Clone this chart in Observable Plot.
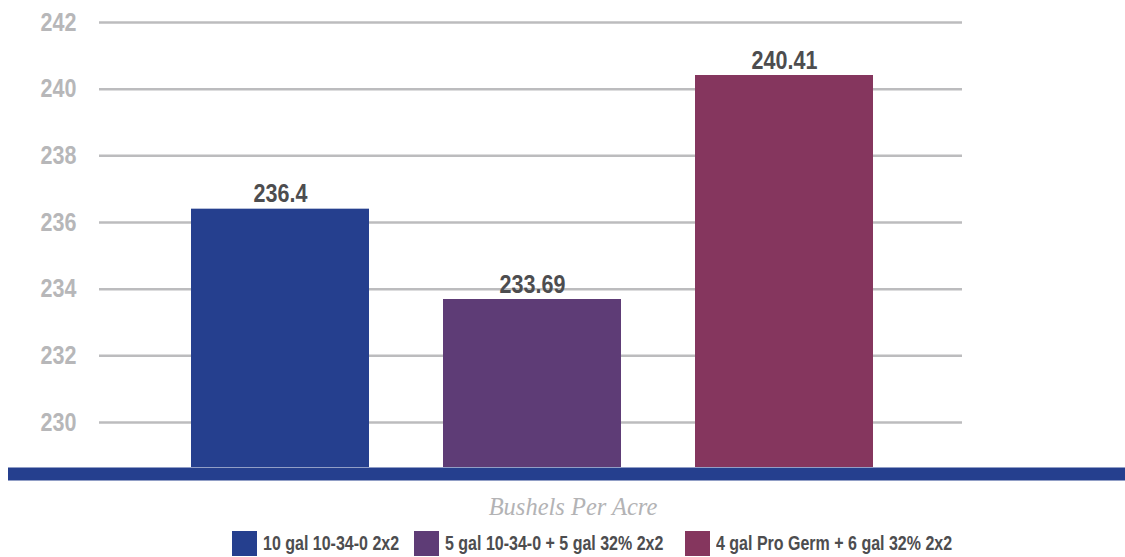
<!DOCTYPE html>
<html>
<head>
<meta charset="utf-8">
<script src="https://cdn.jsdelivr.net/npm/d3@7"></script>
<script src="https://cdn.jsdelivr.net/npm/@observablehq/plot@0.6"></script>
<style>
  html, body { margin: 0; padding: 0; background: #fff; }
  #wrap { position: relative; width: 1125px; height: 557px; overflow: hidden; }
  #title { position: absolute; left: 0; width: 1146px; top: 493px; text-align: center;
    font-family: "Liberation Serif", "DejaVu Serif", serif; font-style: italic; font-size: 24.5px; color: #b3b3b5; }
  .leg { position: absolute; top: 531px; height: 25px; display: flex; align-items: center;
    font-family: "Liberation Sans", Arial, sans-serif; font-weight: bold;
    font-size: 20px; color: #4d4d4f; white-space: nowrap; }
  .sw { width: 25px; height: 25px; margin-right: 6px; flex: none; }
  .leg span { display: inline-block; transform: scaleX(0.8); transform-origin: left center; }
</style>
</head>
<body>
<div id="wrap">
  <div id="chart"></div>
  <div id="title">Bushels Per Acre</div>
  <div id="legend"></div>
</div>
<script>
const categories = ["10 gal 10-34-0 2x2", "5 gal 10-34-0 + 5 gal 32% 2x2", "4 gal Pro Germ + 6 gal 32% 2x2"];
const values = [236.4, 233.69, 240.41];
const labels = ["236.4", "233.69", "240.41"];
const colors = ["#253f8e", "#5e3c76", "#85365e"];
const yTicks = [230, 232, 234, 236, 238, 240, 242];
const yFloor = 228.65;
const yTop = 242.66;

const data = categories.map((c, i) => ({cat: c, value: values[i], label: labels[i], color: colors[i]}));

const font = '"Liberation Sans", Arial, sans-serif';

const chart = Plot.plot({
  width: 1125,
  height: 485,
  marginLeft: 8,
  marginRight: 0,
  marginTop: 0,
  marginBottom: 18,
  style: {background: "#fff", overflow: "visible", fontFamily: font},
  x: {domain: categories, paddingInner: 0.295, paddingOuter: 0.86, align: 0.42, axis: null},
  y: {domain: [yFloor, yTop], axis: null},
  marks: [
    Plot.gridY(yTicks, {stroke: "#bcbcbe", strokeOpacity: 1, strokeWidth: 2.5, insetLeft: 91, insetRight: 163}),
    Plot.axisY(yTicks, {anchor: "left", label: null, tickSize: 0, tickPadding: 0, dx: 68, fontSize: 25, fontWeight: "bold", fill: "#b7b7b9", fontFamily: font}),
    Plot.barY(data, {x: "cat", y1: yFloor, y2: "value", fill: "color"}),
    Plot.text(data, {x: "cat", y: "value", text: "label", lineAnchor: "bottom", dy: -7, fontSize: 25, fontWeight: "bold", fill: "#4d4d4f", fontFamily: font}),
    Plot.ruleY([yFloor], {stroke: "#253f8e", strokeWidth: 13, dy: 6.5})
  ]
});
document.getElementById("chart").appendChild(chart);

// condense the bold sans text to mimic a condensed face
chart.querySelectorAll("text").forEach(t => {
  const len = t.getComputedTextLength();
  if (len > 0) {
    t.setAttribute("textLength", (len * 0.86).toFixed(1));
    t.setAttribute("lengthAdjust", "spacingAndGlyphs");
  }
});

const legendPos = [232, 414, 685];
const legend = document.getElementById("legend");
categories.forEach((c, i) => {
  const item = document.createElement("div");
  item.className = "leg";
  item.style.left = legendPos[i] + "px";
  const sw = document.createElement("div");
  sw.className = "sw";
  sw.style.background = colors[i];
  const t = document.createElement("span");
  t.textContent = c;
  item.appendChild(sw);
  item.appendChild(t);
  legend.appendChild(item);
});
</script>
</body>
</html>
